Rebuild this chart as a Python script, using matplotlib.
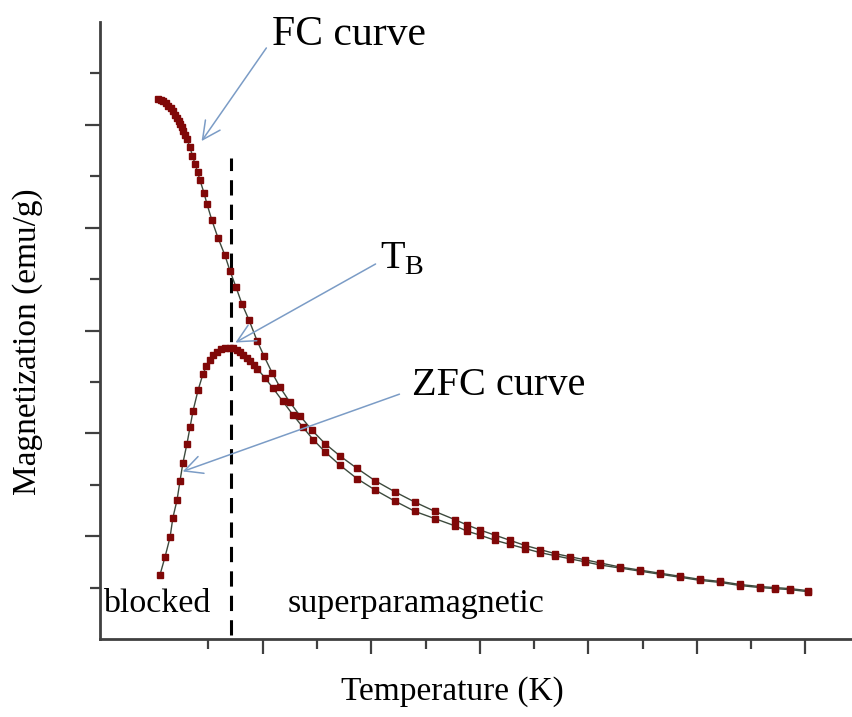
import matplotlib
matplotlib.use("Agg")
import matplotlib.pyplot as plt
from matplotlib.ticker import FixedLocator, NullFormatter

plt.rcParams['font.family'] = ['Liberation Serif', 'DejaVu Serif']
plt.rcParams['mathtext.fontset'] = 'custom'
plt.rcParams['mathtext.rm'] = 'Liberation Serif'

# FC curve (field cooled)
fc_T = [26.7, 28.0, 29.0, 30.2, 31.3, 32.5, 33.6, 34.6, 35.5, 36.2, 36.9, 37.6,
        38.2, 39.2, 40.1, 41.5, 42.6, 43.8, 45.0, 46.1, 47.9,
        49.3, 51.6, 54.4, 57.6, 59.9, 62.7, 65.4, 68.7, 72.4, 75.6, 79.3, 82.9,
        87.6, 92.2, 97.7, 103.7, 110.6, 118.4, 126.7, 136.0, 145.2, 154.4, 163.6,
        169.0, 175.1, 182.0, 188.9, 195.8, 202.8, 209.7, 216.6, 223.5, 230.4, 239.6,
        248.8, 258.0, 267.3, 276.5, 285.7, 294.9, 304.1, 311.0, 318.0, 326.3]
fc_M = [5.25, 5.24, 5.23, 5.21, 5.18, 5.16, 5.13, 5.10, 5.07, 5.04, 5.01, 4.98,
        4.94, 4.90, 4.86, 4.78, 4.70, 4.62, 4.54, 4.46, 4.34,
        4.23, 4.07, 3.90, 3.73, 3.58, 3.42, 3.26, 3.10, 2.90, 2.75, 2.59, 2.45,
        2.30, 2.17, 2.03, 1.90, 1.78, 1.66, 1.54, 1.43, 1.33, 1.24, 1.16,
        1.11, 1.06, 1.01, 0.96, 0.91, 0.87, 0.83, 0.80, 0.77, 0.74, 0.70,
        0.67, 0.64, 0.61, 0.58, 0.56, 0.53, 0.51, 0.50, 0.49, 0.47]

# ZFC curve (zero field cooled)
zfc_T = [27.6, 30.0, 32.3, 33.6, 35.5, 36.9, 38.2, 40.1, 41.5, 42.9, 45.2, 47.5,
         49.0, 50.7, 52.3, 53.9, 55.8, 57.6, 59.9, 61.5, 63.1, 64.5, 66.1, 67.7,
         69.3, 70.8, 72.4, 76.0, 79.7, 84.3, 88.9, 93.5,
         98.2, 103.7, 110.6, 118.4, 126.7, 136.0, 145.2, 154.4, 163.6, 169.0, 175.1,
         182.0, 188.9, 195.8, 202.8, 209.7, 216.6, 223.5, 230.4, 239.6, 248.8,
         258.0, 267.3, 276.5, 285.7, 294.9, 304.1, 311.0, 318.0, 326.3]
zfc_M = [0.62, 0.80, 0.99, 1.18, 1.35, 1.54, 1.71, 1.90, 2.06, 2.22, 2.42, 2.58,
         2.65, 2.71, 2.76, 2.79, 2.82, 2.83, 2.83, 2.83, 2.81, 2.79, 2.76, 2.73,
         2.70, 2.66, 2.63, 2.54, 2.44, 2.31, 2.18, 2.06,
         1.94, 1.82, 1.69, 1.56, 1.45, 1.34, 1.24, 1.17, 1.10, 1.05, 1.01,
         0.96, 0.92, 0.88, 0.84, 0.81, 0.78, 0.75, 0.72, 0.69, 0.66,
         0.63, 0.60, 0.57, 0.55, 0.52, 0.50, 0.49, 0.48, 0.46]

T_block = 60.4

fig = plt.figure(figsize=(8.53, 7.17), dpi=100)
ax = fig.add_axes([0.1172, 0.1088, 0.8816, 0.8605])

red = '#800808'
for T, M in [(fc_T, fc_M), (zfc_T, zfc_M)]:
    ax.plot(T, M, color='#3d4a3d', lw=1.0, marker='s', ms=4.3,
            mfc=red, mec=red, zorder=3)

ax.plot([T_block, T_block], [0.04, 4.68], color='black', lw=2.2,
        dashes=(5, 3), zorder=2)

arrow = dict(arrowstyle='->', color='#7b9cc6', lw=1.1, mutation_scale=32)
ax.annotate('', xy=(46.1, 4.82), xytext=(77.4, 5.77), arrowprops=arrow)
ax.annotate('', xy=(61.3, 2.87), xytext=(128.1, 3.66), arrowprops=arrow)
ax.annotate('', xy=(36.9, 1.62), xytext=(139.2, 2.39), arrowprops=arrow)

ax.text(79.3, 5.88, 'FC curve', fontsize=30, va='center', ha='left')
ax.text(129.0, 3.70, r'T$_\mathrm{B}$', fontsize=29, va='center', ha='left')
ax.text(143.8, 2.47, 'ZFC curve', fontsize=29, va='center', ha='left')
ax.text(1.4, 0.34, 'blocked', fontsize=24.5, va='center', ha='left')
ax.text(86.6, 0.34, 'superparamagnetic', fontsize=24.5, va='center', ha='left')

ax.set_xlim(0, 346.5)
ax.set_ylim(0, 6)

for s in ['top', 'right']:
    ax.spines[s].set_visible(False)
for s in ['left', 'bottom']:
    ax.spines[s].set_color('#404040')
    ax.spines[s].set_linewidth(2)

ax.xaxis.set_major_locator(FixedLocator([75, 125, 175, 225, 275, 325]))
ax.xaxis.set_minor_locator(FixedLocator([50, 100, 150, 200, 250, 300]))
ax.yaxis.set_major_locator(FixedLocator([1, 2, 3, 4, 5]))
ax.yaxis.set_minor_locator(FixedLocator([0.5, 1.5, 2.5, 3.5, 4.5, 5.5]))
ax.xaxis.set_major_formatter(NullFormatter())
ax.yaxis.set_major_formatter(NullFormatter())
ax.tick_params(which='major', direction='out', length=11, width=1.6, color='#404040')
ax.tick_params(which='minor', direction='out', length=7, width=1.6, color='#404040')

fig.text(0.0328, 0.523, 'Magnetization (emu/g)', fontsize=24, rotation=90,
         ha='center', va='center')
fig.text(0.53, 0.035, 'Temperature (K)', fontsize=24, ha='center', va='center')

fig.savefig('out.png', dpi=100)
